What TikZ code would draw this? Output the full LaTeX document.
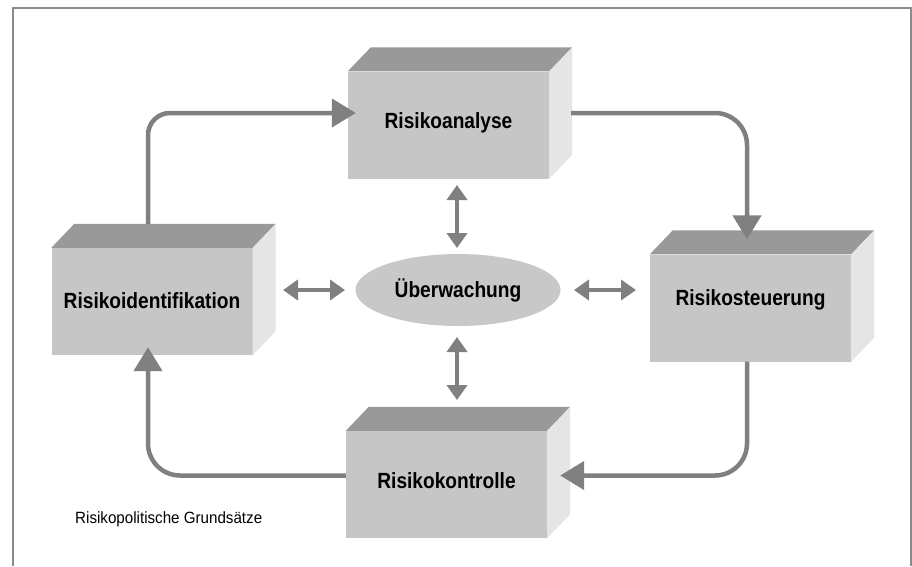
\documentclass[tikz,border=0pt]{standalone}
\usepackage{fontspec}
\setmainfont{Liberation Sans}[FakeStretch=0.93]
\newfontfamily\lblfont{Liberation Sans}[FakeStretch=0.87]
\usetikzlibrary{arrows.meta,calc,shapes.geometric}
\definecolor{topc}{HTML}{999999}
\definecolor{frontc}{HTML}{C6C6C6}
\definecolor{sidec}{HTML}{E5E5E5}
\definecolor{arrc}{HTML}{808080}
\definecolor{framec}{HTML}{8C8C8C}
\definecolor{ellc}{HTML}{C8C8C8}
\tikzset{
  front/.style={fill=frontc, draw=none, minimum width=201pt, minimum height=107pt, inner sep=0pt,
    font=\lblfont\bfseries\fontsize{22}{26}\selectfont},
  flow/.style={draw=arrc, line width=4.5pt, -{Triangle[length=24pt,width=28pt]}},
  dbl/.style={draw=arrc, line width=4pt, {Triangle[length=15pt,width=20pt]}-{Triangle[length=15pt,width=20pt]}},
}
\newcommand{\cubefaces}[1]{%
  \fill[topc] (#1.north west) -- (#1.north east) -- ($(#1.north east)+(23,-24)$) -- ($(#1.north west)+(23,-24)$) -- cycle;
  \fill[sidec] (#1.north east) -- (#1.south east) -- ($(#1.south east)+(23,-24)$) -- ($(#1.north east)+(23,-24)$) -- cycle;
}
\begin{document}
\begin{tikzpicture}[x=1pt,y=-1pt]
\useasboundingbox (0,0) rectangle (912,566);
\fill[white] (0,0) rectangle (912,566);
\draw[framec, line width=2pt] (13,566) -- (13,8) -- (911,8) -- (911,566);

\node[front, text depth=8pt] (analyse) at (448.5,125) {Risikoanalyse};
\node[front, text depth=2pt] (ident) at (152,301.5) {Risikoidentifikation};
\node[front, text depth=20pt] (steuer) at (750.5,308) {Risikosteuerung};
\node[front, text depth=8pt] (kontr) at (446.5,484.5) {Risikokontrolle};
\cubefaces{analyse}
\cubefaces{ident}
\cubefaces{steuer}
\cubefaces{kontr}

\node[ellipse, fill=ellc, minimum width=205pt, minimum height=72pt, inner sep=0pt,
  font=\lblfont\bfseries\fontsize{22}{26}\selectfont] (ueb) at (458,290) {Überwachung};

% flow coordinates
\coordinate (identTop) at ($(ident.north)+(-4,-24)$);
\coordinate (analyseIn) at ($(analyse.west)+(8,-12)$);
\coordinate (analyseOut) at ($(analyse.east)+(22,-12)$);
\coordinate (steuerIn) at ($(steuer.north)+(-3.5,-15)$);
\coordinate (steuerOut) at ($(steuer.south)+(-3.5,0)$);
\coordinate (kontrIn) at ($(kontr.east)+(13,-9)$);
\coordinate (kontrOut) at ($(kontr.west)+(0,-9)$);
\coordinate (identIn) at ($(ident.south)+(-4,-8)$);

\draw[flow, rounded corners=22pt] (identTop) |- (analyseIn);
\draw[flow, rounded corners=32pt] (analyseOut) -| (steuerIn);
\draw[flow, rounded corners=32pt] (steuerOut) |- (kontrIn);
\draw[flow, rounded corners=32pt] (kontrOut) -| (identIn);

% double arrows
\coordinate (vt1) at (457,185);
\coordinate (vt2) at (457,248);
\coordinate (vb1) at (457,337);
\coordinate (vb2) at (457,400);
\coordinate (hl1) at (283,290);
\coordinate (hl2) at (345,290);
\coordinate (hr1) at (574,290);
\coordinate (hr2) at (636,290);
\draw[dbl] (vt1) -- (vt2);
\draw[dbl] (vb1) -- (vb2);
\draw[dbl] (hl1) -- (hl2);
\draw[dbl] (hr1) -- (hr2);

\node[anchor=base west, inner sep=0pt, font=\fontsize{16.3}{18}\selectfont] (cap) at (75,523) {Risikopolitische Grundsätze};
\end{tikzpicture}
\end{document}
